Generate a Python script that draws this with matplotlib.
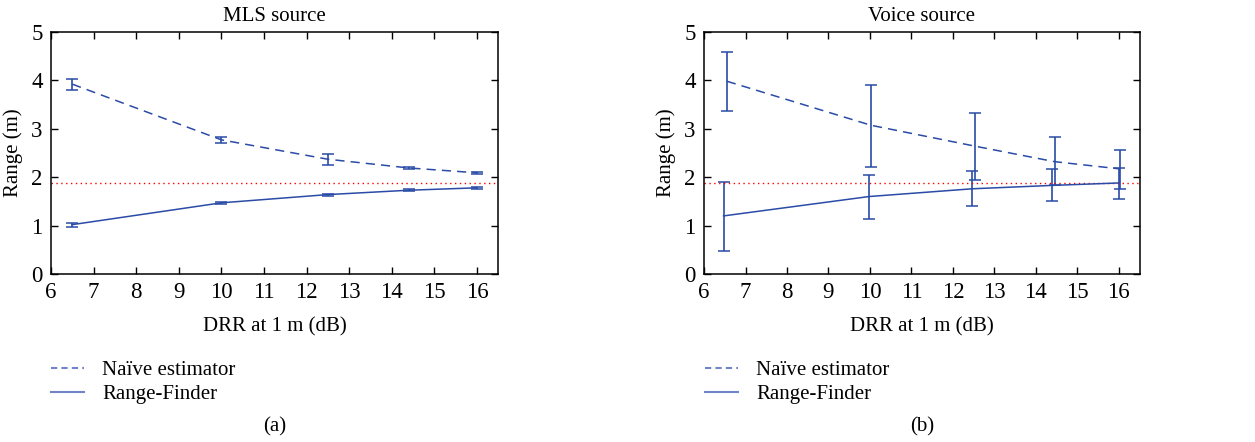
import matplotlib.pyplot as plt
from matplotlib.lines import Line2D

plt.rcParams['font.family'] = ['Liberation Serif', 'DejaVu Serif']

# data
x_mls = [6.5, 10.0, 12.5, 14.4, 16.0]
naive_mls = [3.92, 2.77, 2.37, 2.19, 2.09]
naive_mls_lo = [3.80, 2.71, 2.26, 2.17, 2.07]
naive_mls_hi = [4.03, 2.83, 2.48, 2.21, 2.11]
rf_mls = [1.02, 1.47, 1.64, 1.73, 1.78]
rf_mls_lo = [0.98, 1.45, 1.62, 1.71, 1.76]
rf_mls_hi = [1.06, 1.49, 1.66, 1.75, 1.80]

x_voice_naive = [6.55, 10.03, 12.53, 14.45, 16.03]
x_voice_rf = [6.47, 9.98, 12.47, 14.40, 16.00]
naive_voice = [3.98, 3.07, 2.64, 2.32, 2.17]
naive_voice_lo = [3.36, 2.20, 1.95, 1.83, 1.76]
naive_voice_hi = [4.59, 3.91, 3.33, 2.82, 2.57]
rf_voice = [1.20, 1.60, 1.76, 1.83, 1.88]
rf_voice_lo = [0.47, 1.14, 1.40, 1.50, 1.55]
rf_voice_hi = [1.91, 2.04, 2.13, 2.17, 2.19]

true_range = 1.87

titles = ['MLS source', 'Voice source']
panel_tags = ['(a)', '(b)']

blue = '#2a4ba6'
dash = (0, (6, 4))

fig = plt.figure(figsize=(12.55, 4.42), dpi=100)
ax1 = fig.add_axes([0.0406, 0.380, 0.3564, 0.548])
ax2 = fig.add_axes([0.561, 0.380, 0.347, 0.548])


def errs(y, lo, hi):
    return [[a - b for a, b in zip(y, lo)], [c - a for a, c in zip(y, hi)]]


def draw(ax, xn, yn, ynlo, ynhi, xr, yr, yrlo, yrhi, title, tag, legx):
    ax.errorbar(xn, yn, yerr=errs(yn, ynlo, ynhi), color=blue, lw=1.1,
                linestyle=dash, capsize=4, elinewidth=1.2, capthick=1.1)
    ax.errorbar(xr, yr, yerr=errs(yr, yrlo, yrhi), color=blue, lw=1.1,
                linestyle='-', capsize=4, elinewidth=1.2, capthick=1.1)
    ax.axhline(true_range, color='red', lw=1.0, linestyle=(0, (1, 2.5)))
    ax.set_xlim(6, 16.5)
    ax.set_ylim(0, 5)
    ax.set_xticks(range(6, 17))
    ax.set_yticks(range(0, 6))
    ax.tick_params(direction='in', top=True, right=True, labelsize=16.5,
                   length=5, width=1, pad=6)
    for s in ax.spines.values():
        s.set_linewidth(1.1)
    ax.set_title(title, fontsize=15, pad=8)
    ax.set_xlabel('DRR at 1 m (dB)', fontsize=15, labelpad=10)
    ax.set_ylabel('Range (m)', fontsize=15, labelpad=6)
    handles = [Line2D([], [], color='#6f85c8', lw=1.5, linestyle=(0, (3, 2))),
               Line2D([], [], color='#6f85c8', lw=1.5)]
    fig.legend(handles, ['Naïve estimator', 'Range-Finder'],
               loc='upper left', bbox_to_anchor=(legx, 0.203),
               frameon=False, fontsize=15, handlelength=1.6,
               handletextpad=0.85, labelspacing=0.22, borderaxespad=0)
    pos = ax.get_position()
    fig.text((pos.x0 + pos.x1) / 2, 0.034, tag, ha='center', va='center',
             fontsize=15)


draw(ax1, x_mls, naive_mls, naive_mls_lo, naive_mls_hi,
     x_mls, rf_mls, rf_mls_lo, rf_mls_hi, titles[0], panel_tags[0], 0.034)
draw(ax2, x_voice_naive, naive_voice, naive_voice_lo, naive_voice_hi,
     x_voice_rf, rf_voice, rf_voice_lo, rf_voice_hi, titles[1], panel_tags[1], 0.555)

fig.savefig('out.png', dpi=100)
